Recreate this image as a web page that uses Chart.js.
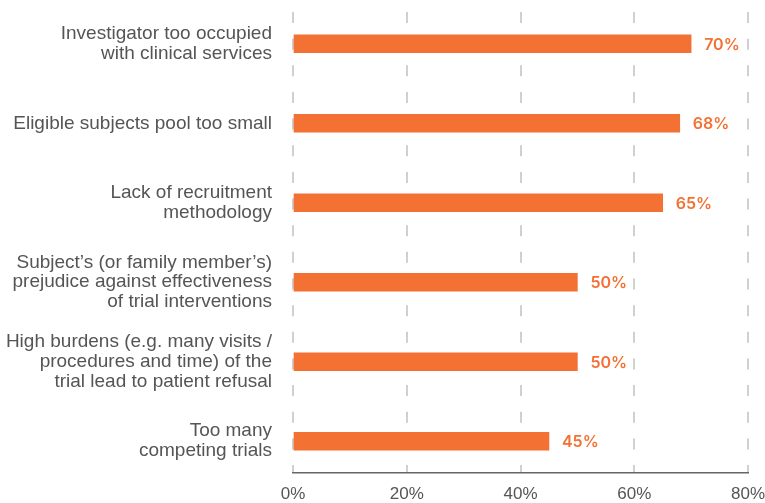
<!DOCTYPE html>
<html>
<head>
<meta charset="utf-8">
<script src="https://cdn.jsdelivr.net/npm/chart.js@4/dist/chart.umd.min.js"></script>
<style>
  html, body { margin: 0; padding: 0; background: #fff; }
  #wrap { width: 765px; height: 503px; position: relative; }
</style>
</head>
<body>
<div id="wrap"><canvas id="chart"></canvas></div>
<script>
// Reasons for recruitment difficulty (share of respondents, %)
const categories = [
  ['Investigator too occupied', 'with clinical services'],
  ['Eligible subjects pool too small'],
  ['Lack of recruitment', 'methodology'],
  ['Subject\u2019s (or family member\u2019s)', 'prejudice against effectiveness', 'of trial interventions'],
  ['High burdens (e.g. many visits /', 'procedures and time) of the', 'trial lead to patient refusal'],
  ['Too many', 'competing trials']
];
const values = [70, 68, 65, 50, 50, 45];
const xTicks = [0, 20, 40, 60, 80];

const ORANGE = '#F37133';
const TEXT = '#555555';

// value labels at the end of each bar
const valueLabels = {
  id: 'valueLabels',
  afterDatasetsDraw(chart) {
    const ctx = chart.ctx;
    const meta = chart.getDatasetMeta(0);
    ctx.save();
    ctx.font = '600 16px Inter, "DejaVu Sans", sans-serif';
    ctx.fillStyle = ORANGE;
    ctx.textAlign = 'left';
    ctx.textBaseline = 'middle';
    meta.data.forEach((bar, i) => {
      ctx.fillText(values[i] + '%', bar.x + 13, bar.y + 1);
    });
    ctx.restore();
  }
};

new Chart(document.getElementById('chart'), {
  type: 'bar',
  data: {
    datasets: [{
      data: values.map((v, i) => ({ x: v, y: i })),
      backgroundColor: ORANGE,
      barThickness: 18,
      borderWidth: 0
    }]
  },
  options: {
    indexAxis: 'y',
    responsive: true,
    maintainAspectRatio: false,
    animation: false,
    layout: { padding: 0 },
    plugins: {
      legend: { display: false },
      tooltip: { enabled: false }
    },
    scales: {
      x: {
        type: 'linear',
        min: xTicks[0],
        max: xTicks[xTicks.length - 1],
        afterBuildTicks: axis => { axis.ticks = xTicks.map(v => ({ value: v })); },
        ticks: {
          callback: v => v + '%',
          color: TEXT,
          font: { family: '"Liberation Sans", Arial, sans-serif', size: 17 },
          padding: 11,
          maxRotation: 0
        },
        grid: {
          color: '#d0d0d0',
          lineWidth: 2,
          drawTicks: false
        },
        border: { display: true, color: '#666666', width: 1.5, dash: [11, 15.65], dashOffset: 0 },
        afterFit: axis => {
          axis.height = 30;
          axis.paddingLeft = 0;
          axis.paddingRight = 17;
        }
      },
      y: {
        type: 'linear',
        reverse: true,
        offset: false,
        bounds: 'data',
        min: -0.4,
        max: categories.length - 0.6,
        afterBuildTicks: axis => { axis.ticks = categories.map((c, i) => ({ value: i })); },
        ticks: {
          callback: v => categories[v],
          color: TEXT,
          font: { family: '"Liberation Sans", Arial, sans-serif', size: 19, lineHeight: 1.05 },
          padding: 21
        },
        grid: { display: false, drawTicks: false, offset: false },
        border: { display: false },
        afterFit: axis => {
          axis.width = 293;
          axis.paddingTop = 12;
          axis.paddingBottom = 0;
        }
      }
    }
  },
  plugins: [valueLabels]
});
</script>
</body>
</html>
